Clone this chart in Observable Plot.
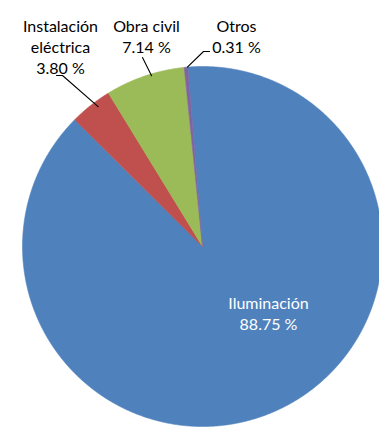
<!DOCTYPE html>
<html>
<head>
<meta charset="utf-8">
<script src="https://cdn.jsdelivr.net/npm/d3@7"></script>
<script src="https://cdn.jsdelivr.net/npm/@observablehq/plot@0.6"></script>
<style>
  html, body { margin: 0; padding: 0; background: #fff; overflow: hidden; }
  #chart { width: 379px; height: 427px; }
</style>
</head>
<body>
<div id="chart"></div>
<script>
// ---- data ----
const categories = ["Iluminación", "Instalación eléctrica", "Obra civil", "Otros"];
const shares = [88.75, 3.80, 7.14, 0.31];
const labelNames = [["Iluminación"], ["Instalación", "eléctrica"], ["Obra civil"], ["Otros"]];
const colors = ["#4F81BD", "#C0504D", "#9BBB59", "#8064A2"];

// ---- layout (pixels relative to pie centre; radius units computed below) ----
const W = 379, H = 427;
const R = 180;               // pie radius in px
const CX = 202, CY = 246;    // pie centre in px
const startAngle = -4.7;     // degrees, clockwise from 12 o'clock
const fontSize = 16, lineGap = 21;
// label block: centre x and top (cap top) in px
const labelLayout = [
  {x: 268, top: 293.6, color: "#fff"},
  {x: 60,  top: 16.6,  color: "#000"},
  {x: 146, top: 16.6,  color: "#000"},
  {x: 236, top: 16.6,  color: "#000"}
];
// leader lines: position on slice (fraction of sweep, radius factor), elbow/tick offsets from label centre / last baseline
const leaderLayout = [
  null,
  {frac: 0.62, r: 0.97, elbow: [2, 5],   tick: [-4, 5]},
  {frac: 0.58, r: 0.99, elbow: [-4, 8],  tick: null},
  {frac: 0.9,  r: 1.0,  elbow: [-33, 2], tick: [-27, 2]}
];

const total = d3.sum(shares);
const toRad = d => d * Math.PI / 180;
const polar = (deg, r) => [r * Math.sin(toRad(deg)), r * Math.cos(toRad(deg))];
const px2x = px => (px - CX) / R;
const px2y = py => (CY - py) / R;

// slice polygons
let cum = 0;
const slices = shares.map((v, i) => {
  const a0 = startAngle + 360 * cum / total;
  cum += v;
  const a1 = startAngle + 360 * cum / total;
  const n = Math.max(2, Math.ceil((a1 - a0) / 0.25));
  const pts = [{x: 0, y: 0}];
  for (let k = 0; k <= n; k++) {
    const [x, y] = polar(a0 + (a1 - a0) * k / n, 1);
    pts.push({x, y});
  }
  pts.push({x: 0, y: 0});
  return {cat: categories[i], a0, a1, pts};
});

// labels
const labels = shares.map((v, i) => ({
  text: [...labelNames[i], v.toFixed(2) + " %"].join("\n"),
  lines: labelNames[i].length + 1,
  x: px2x(labelLayout[i].x),
  y: px2y(labelLayout[i].top),
  color: labelLayout[i].color
}));

// leaders
const leaders = [];
leaderLayout.forEach((L, i) => {
  if (!L) return;
  const s = slices[i];
  const [sx, sy] = polar(s.a0 + (s.a1 - s.a0) * L.frac, L.r);
  const lastBaseline = labelLayout[i].top + 11.4 + (labels[i].lines - 1) * lineGap;
  const pts = [{id: i, x: sx, y: sy},
               {id: i, x: px2x(labelLayout[i].x + L.elbow[0]), y: px2y(lastBaseline + L.elbow[1])}];
  if (L.tick) pts.push({id: i, x: px2x(labelLayout[i].x + L.tick[0]), y: px2y(lastBaseline + L.tick[1])});
  leaders.push(...pts);
});

const marks = [];
slices.forEach((s, i) => {
  marks.push(Plot.line(s.pts, {x: "x", y: "y", fill: colors[i], stroke: colors[i], strokeWidth: 0.6, curve: "linear"}));
});
marks.push(Plot.line(leaders, {x: "x", y: "y", z: "id", stroke: "#000", strokeWidth: 1.1}));
labels.forEach(l => {
  marks.push(Plot.text([l], {
    x: "x", y: "y", text: "text",
    fill: l.color, fontSize, lineHeight: lineGap / fontSize,
    lineAnchor: "top", textAnchor: "middle",
    fontFamily: "Lato, 'Open Sans', sans-serif"
  }));
});

const chart = Plot.plot({
  width: W, height: H,
  margin: 0,
  x: {domain: [px2x(0), px2x(W)], axis: null},
  y: {domain: [px2y(H), px2y(0)], axis: null},
  style: {background: "#fff", overflow: "hidden"},
  marks
});
document.getElementById("chart").appendChild(chart);
</script>
</body>
</html>
